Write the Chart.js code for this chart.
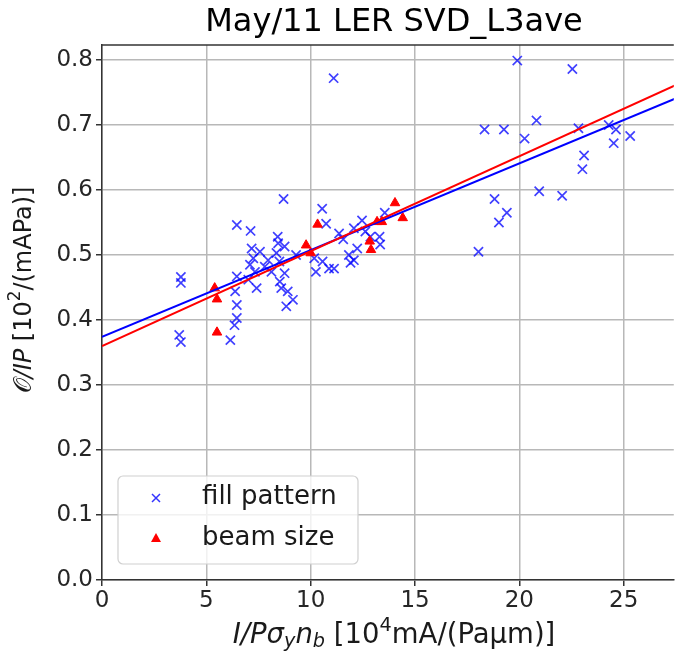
<!DOCTYPE html>
<html>
<head>
<meta charset="utf-8">
<script src="https://cdn.jsdelivr.net/npm/chart.js@4.4.1/dist/chart.umd.min.js"></script>
<style>
  html, body { margin: 0; padding: 0; background: #fff; }
  canvas { display: block; }
</style>
</head>
<body>
<canvas id="myChart" width="682" height="654"></canvas>
<script>
// fill pattern points (x = I/P sigma_y n_b, y = O/IP)
const fillX = [11.1, 8.7, 6.46, 7.12, 8.42, 10.55, 10.74, 19.9, 22.54, 18.33,
  19.26, 20.82, 20.25, 22.83, 24.28, 24.63, 24.52, 25.31, 23.1, 23.02,
  20.95, 22.05, 18.81, 19.4, 19.02, 18.04, 13.55, 13.3, 13.33, 12.46,
  12.07, 11.36, 11.56, 12.62, 12.86, 12.23, 11.83, 12.07, 11.91, 10.17,
  10.57, 10.25, 10.88, 11.12, 8.44, 7.17, 7.57, 8.75, 8.36, 9.3,
  7.25, 7.96, 7.09, 7.8, 7.33, 8.75, 6.46, 8.52, 7.41, 8.59,
  8.9, 6.38, 9.15, 6.46, 8.83, 6.46, 6.35, 6.15, 3.78, 3.78,
  3.7, 3.78, 7.01, 8.12, 8.5];
const fillY = [0.772, 0.586, 0.546, 0.537, 0.528, 0.571, 0.548, 0.799, 0.786, 0.693,
  0.693, 0.707, 0.679, 0.695, 0.700, 0.693, 0.672, 0.683, 0.653, 0.632,
  0.598, 0.591, 0.586, 0.565, 0.550, 0.505, 0.565, 0.528, 0.516, 0.553,
  0.541, 0.533, 0.524, 0.536, 0.528, 0.510, 0.500, 0.492, 0.488, 0.495,
  0.490, 0.474, 0.479, 0.479, 0.518, 0.510, 0.505, 0.513, 0.503, 0.500,
  0.495, 0.492, 0.485, 0.482, 0.474, 0.472, 0.467, 0.459, 0.449, 0.449,
  0.444, 0.444, 0.431, 0.423, 0.421, 0.403, 0.392, 0.369, 0.466, 0.457,
  0.377, 0.366, 0.462, 0.474, 0.490];

// beam size points
const beamX = [5.4, 5.51, 5.51, 9.78, 10.0, 10.33, 12.83, 12.89, 13.18, 13.41, 14.04, 14.41];
const beamY = [0.449, 0.432, 0.381, 0.515, 0.503, 0.547, 0.521, 0.508, 0.551, 0.551, 0.580, 0.557];

// linear fits: [intercept, slope]
const fillFit = [0.374, 0.01334];
const beamFit = [0.360, 0.0146];

const xTicks = [0, 5, 10, 15, 20, 25];
const yTicks = [0, 0.1, 0.2, 0.3, 0.4, 0.5, 0.6, 0.7, 0.8];
const xMax = 27.4;
const yMax = 0.823;

const FONT = '"DejaVu Sans", sans-serif';

function pts(xs, ys) { return xs.map((x, i) => ({x: x, y: ys[i]})); }
function fitLine(f) { return [0, 28].map(x => ({x: x, y: f[0] + f[1] * x})); }

function drawRich(ctx, parts, size) {
  let total = 0;
  const items = parts.map(p => {
    const s = (p.sub || p.sup) ? size * 0.7 : size;
    const font = (p.it ? 'italic ' : '') + s + 'px ' + FONT;
    ctx.font = font;
    const w = ctx.measureText(p.t).width;
    total += w;
    return {t: p.t, font: font, w: w, dy: p.sub ? size * 0.22 : (p.sup ? -size * 0.38 : 0)};
  });
  let x = -total / 2;
  ctx.textBaseline = 'middle';
  ctx.textAlign = 'left';
  items.forEach(it => {
    ctx.font = it.font;
    ctx.fillText(it.t, x, it.dy);
    x += it.w;
  });
}

const extras = {
  id: 'extras',
  afterDatasetsDraw(chart) {
    const ctx = chart.ctx;
    const a = chart.chartArea;
    ctx.save();
    // top spine
    ctx.strokeStyle = '#333';
    ctx.lineWidth = 1.5;
    ctx.beginPath();
    ctx.moveTo(a.left, a.top);
    ctx.lineTo(a.right, a.top);
    ctx.stroke();

    // title, centred over the axes
    ctx.fillStyle = '#000';
    ctx.font = '32px ' + FONT;
    ctx.textAlign = 'center';
    ctx.textBaseline = 'middle';
    ctx.fillText('May/11 LER SVD_L3ave', 394, 23);

    // legend
    const bx = 118, by = 476, bw = 240, bh = 88, r = 5;
    ctx.beginPath();
    ctx.roundRect(bx, by, bw, bh, r);
    ctx.fillStyle = 'rgba(255,255,255,0.8)';
    ctx.fill();
    ctx.strokeStyle = '#d0d0d0';
    ctx.lineWidth = 1.2;
    ctx.stroke();

    ctx.strokeStyle = 'rgba(0,0,255,0.8)';
    ctx.lineWidth = 1.5;
    ctx.beginPath();
    ctx.moveTo(152, 494); ctx.lineTo(160, 502);
    ctx.moveTo(160, 494); ctx.lineTo(152, 502);
    ctx.stroke();
    ctx.fillStyle = 'red';
    ctx.beginPath();
    ctx.moveTo(156, 533); ctx.lineTo(161, 542); ctx.lineTo(151, 542);
    ctx.closePath();
    ctx.fill();

    ctx.fillStyle = '#1a1a1a';
    ctx.font = '26px ' + FONT;
    ctx.textBaseline = 'middle';
    ctx.textAlign = 'left';
    ctx.fillText('fill pattern', 202, 497);
    ctx.fillText('beam size', 202, 538);

    // x axis label
    ctx.save();
    ctx.translate(394, 636);
    drawRich(ctx, [
      {t: 'I/Pσ', it: true}, {t: 'y', it: true, sub: true}, {t: 'n', it: true}, {t: 'b', it: true, sub: true},
      {t: ' [10'}, {t: '4', sup: true}, {t: 'mA/(Paμm)]'}
    ], 27.5);
    ctx.restore();

    // y axis label
    ctx.save();
    ctx.translate(25, 290);
    ctx.rotate(-Math.PI / 2);
    drawRich(ctx, [
      {t: '𝒪', it: false}, {t: '/IP', it: true}, {t: ' [10'}, {t: '2', sup: true}, {t: '/(mAPa)]'}
    ], 24);
    ctx.restore();
    ctx.restore();
  }
};

new Chart(document.getElementById('myChart'), {
  type: 'scatter',
  data: {
    datasets: [
      {
        label: 'fill pattern',
        data: pts(fillX, fillY),
        pointStyle: 'crossRot',
        pointRadius: 6.5,
        pointBorderWidth: 1.7,
        borderColor: 'rgba(0,0,255,0.75)',
        backgroundColor: 'rgba(0,0,255,0.75)',
        order: 3
      },
      {
        label: 'beam size',
        data: pts(beamX, beamY),
        pointStyle: 'triangle',
        pointRadius: 5.5,
        pointBorderWidth: 1,
        borderColor: 'red',
        backgroundColor: 'red',
        order: 2
      },
      {
        type: 'line',
        label: 'fill fit',
        data: fitLine(fillFit),
        borderColor: 'blue',
        borderWidth: 2,
        pointRadius: 0,
        fill: false,
        order: 1
      },
      {
        type: 'line',
        label: 'beam fit',
        data: fitLine(beamFit),
        borderColor: 'red',
        borderWidth: 2,
        pointRadius: 0,
        fill: false,
        order: 0
      }
    ]
  },
  options: {
    responsive: false,
    animation: false,
    devicePixelRatio: 1,
    layout: { padding: { top: 45, right: -13, left: 0, bottom: 0 } },
    plugins: {
      legend: { display: false },
      tooltip: { enabled: false },
      title: { display: false }
    },
    scales: {
      x: {
        type: 'linear',
        min: 0,
        max: xMax,
        afterBuildTicks: s => { s.ticks = xTicks.map(v => ({value: v})); },
        afterFit: s => { s.height = 74; s.paddingRight = 0; s.paddingLeft = 0; },
        ticks: { font: { family: FONT, size: 23 }, color: '#262626', padding: 1, maxRotation: 0 },
        grid: { color: '#b8b8b8', lineWidth: 1.5, tickColor: '#333', tickLength: 6 },
        border: { color: '#333', width: 1.5 }
      },
      y: {
        min: 0,
        max: yMax,
        afterBuildTicks: s => { s.ticks = yTicks.map(v => ({value: v})); },
        afterFit: s => { s.width = 102; s.paddingTop = 0; s.paddingBottom = 0; },
        ticks: { font: { family: FONT, size: 23 }, color: '#262626', padding: 3, callback: v => v.toFixed(1) },
        grid: { color: '#b8b8b8', lineWidth: 1.5, tickColor: '#333', tickLength: 6 },
        border: { color: '#333', width: 1.5 }
      }
    }
  },
  plugins: [extras]
});
</script>
</body>
</html>
